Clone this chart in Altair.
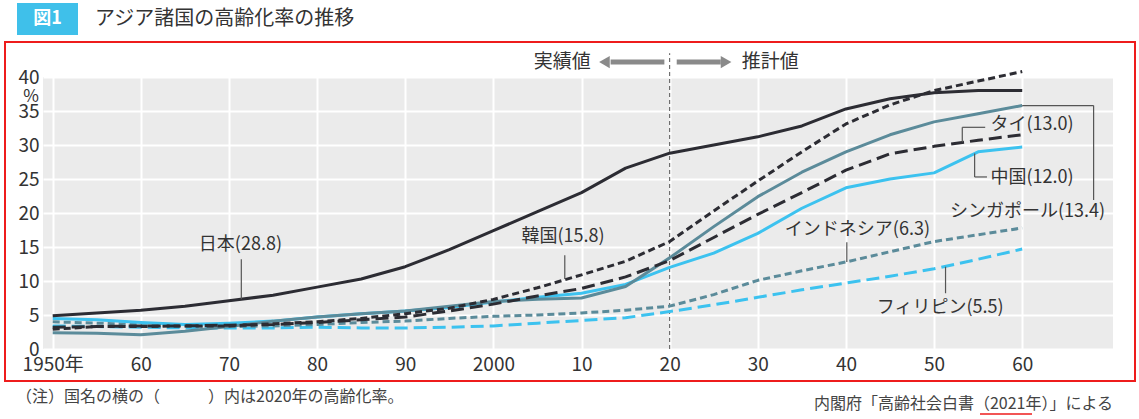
import altair as alt
import pandas as pd

FONT = "Noto Sans CJK JP"

# Share of population aged 65+ (%), every 5 years
years = list(range(1950, 2065, 5))

japan = [4.9, 5.3, 5.7, 6.3, 7.1, 7.9, 9.1, 10.3, 12.1, 14.6, 17.4, 20.2, 23.0, 26.6,
         28.8, 30.0, 31.2, 32.8, 35.3, 36.8, 37.7, 38.0, 38.0]
korea = [2.9, 3.3, 3.3, 3.4, 3.4, 3.7, 4.0, 4.5, 5.2, 6.0, 7.3, 9.0, 10.9, 12.9,
         15.8, 20.3, 24.7, 29.0, 33.1, 35.9, 38.0, 39.4, 40.8]
thailand = [3.2, 3.3, 3.4, 3.4, 3.5, 3.6, 3.9, 4.3, 4.7, 5.6, 6.6, 7.8, 8.9, 10.6,
            13.0, 16.4, 19.8, 23.0, 26.3, 28.7, 29.8, 30.7, 31.5]
singapore = [2.4, 2.3, 2.1, 2.6, 3.3, 4.1, 4.7, 5.2, 5.6, 6.3, 7.0, 7.3, 7.5, 9.2,
             13.4, 18.0, 22.4, 26.0, 29.0, 31.5, 33.4, 34.6, 35.8]
china = [4.5, 4.3, 3.9, 3.6, 3.8, 4.1, 4.7, 5.2, 5.6, 6.1, 6.9, 7.6, 8.2, 9.5,
         12.0, 14.1, 17.0, 20.7, 23.7, 25.0, 25.9, 29.0, 29.7]
indonesia = [4.0, 3.8, 3.6, 3.4, 3.3, 3.4, 3.6, 3.9, 4.1, 4.5, 4.8, 5.0, 5.3, 5.7,
             6.3, 8.0, 10.1, 11.5, 12.8, 14.3, 15.8, 16.8, 17.8]
philippines = [3.4, 3.3, 3.2, 3.1, 3.1, 3.1, 3.2, 3.1, 3.1, 3.2, 3.4, 3.8, 4.2, 4.6,
               5.5, 6.5, 7.6, 8.7, 9.7, 10.7, 11.8, 13.2, 14.7]

BLACK = "#2c2c33"
STEEL = "#5b8b9a"
CYAN = "#3cc2ef"

# name, values, colour, dash pattern (drawn back to front)
series = [
    ("フィリピン", philippines, CYAN, [13, 6]),
    ("インドネシア", indonesia, STEEL, [7, 4]),
    ("中国", china, CYAN, []),
    ("シンガポール", singapore, STEEL, []),
    ("タイ", thailand, BLACK, [13, 6]),
    ("韓国", korea, BLACK, [7, 4]),
    ("日本", japan, BLACK, []),
]

# Labels: text, anchor year, anchor value, alignment
label_text = ["日本(28.8)", "韓国(15.8)", "タイ(13.0)", "中国(12.0)",
              "シンガポール(13.4)", "インドネシア(6.3)", "フィリピン(5.5)"]
label_year = [1971.3, 2007.9, 2056.4, 2056.4, 2069.4, 2041.3, 2050.7]
label_value = [15.3, 16.5, 32.9, 25.1, 20.1, 17.5, 6.0]
label_align = ["center", "center", "left", "left", "right", "center", "center"]

# Leader lines (year, value) -> (year2, value2)
lead_year = [1971.4, 2008.1, 2055.8, 2053.2, 2054.6, 2054.6, 2060.0, 2068.1, 2040.1, 2051.3]
lead_value = [7.3, 10.3, 32.6, 32.6, 28.75, 25.3, 35.8, 35.8, 12.8, 12.1]
lead_year2 = [1971.4, 2008.1, 2053.2, 2053.2, 2054.6, 2056.0, 2068.1, 2068.1, 2040.1, 2051.3]
lead_value2 = [13.2, 13.8, 32.6, 30.4, 25.3, 25.3, 35.8, 21.9, 15.7, 8.2]

x_ticks = list(range(1950, 2070, 10))
y_ticks = list(range(0, 45, 5))

xscale = alt.Scale(domain=[1948.9, 2070.3], nice=False, zero=False)
yscale = alt.Scale(domain=[0, 40], nice=False)
xaxis = alt.Axis(
    values=x_ticks, title=None, domain=False, ticks=False, labelPadding=6,
    labelFontSize=19, labelColor="#333333", labelFont=FONT, labelBaseline="top",
    labelExpr="datum.value == 1950 ? '1950年' : datum.value == 2000 ? '2000' : substring(toString(datum.value), 2, 4)",
    gridColor="white", gridWidth=2,
)
yaxis = alt.Axis(
    values=y_ticks, title=None, domain=False, ticks=False, labelPadding=4,
    labelFontSize=19, labelColor="#333333", labelFont=FONT,
    gridColor="white", gridWidth=2,
)
X = alt.X("year:Q", scale=xscale, axis=xaxis)
Y = alt.Y("value:Q", scale=yscale, axis=yaxis)

layers = []

# Divider between observed and projected values
divider = alt.Chart(pd.DataFrame({"year": [2020], "value": [0], "value2": [43.5]})).mark_rule(
    color="#555555", strokeWidth=1, strokeDash=[4, 3]
).encode(x=X, y=Y, y2="value2:Q")
layers.append(divider)

for name, vals, col, dash in series:
    df = pd.DataFrame({"year": years, "value": vals})
    mk = dict(color=col, strokeWidth=3, strokeCap="butt", strokeJoin="round")
    if dash:
        mk["strokeDash"] = dash
    layers.append(alt.Chart(df).mark_line(**mk).encode(x=X, y=Y))

leaders = pd.DataFrame({"year": lead_year, "value": lead_value,
                        "year2": lead_year2, "value2": lead_value2})
layers.append(
    alt.Chart(leaders).mark_rule(color="#555555", strokeWidth=1.2).encode(
        x=X, y=Y, x2="year2:Q", y2="value2:Q")
)

labels = pd.DataFrame({"year": label_year, "value": label_value,
                       "text": label_text, "align": label_align})
for al in ["left", "center", "right"]:
    layers.append(
        alt.Chart(labels).transform_filter(alt.datum.align == al).mark_text(
            align=al, baseline="middle", font=FONT, fontSize=18, color="#333333"
        ).encode(x=X, y=Y, text="text:N")
    )

# Observed / projected header with arrows
header = pd.DataFrame({"year": [2007.8, 2031.4], "value": [42.2, 42.2],
                       "text": ["実績値", "推計値"]})
layers.append(
    alt.Chart(header).mark_text(font=FONT, fontSize=19, color="#333333",
                                baseline="middle").encode(x=X, y=Y, text="text:N")
)
shafts = pd.DataFrame({"year": [2013.3, 2020.8], "year2": [2019.4, 2025.8],
                       "value": [42.2, 42.2]})
layers.append(
    alt.Chart(shafts).mark_rule(color="#8a8a8a", strokeWidth=5).encode(
        x=X, x2="year2:Q", y=Y)
)
heads = pd.DataFrame({"year": [2012.6, 2026.4], "value": [42.2, 42.2],
                      "shape": ["triangle-left", "triangle-right"]})
layers.append(
    alt.Chart(heads).mark_point(filled=True, color="#8a8a8a", size=150, opacity=1).encode(
        x=X, y=Y, shape=alt.Shape("shape:N", scale=None))
)

one = pd.DataFrame({"t": [""]})

# Unit mark
layers.append(
    alt.Chart(pd.DataFrame({"t": ["%"]})).mark_text(
        font=FONT, fontSize=17, color="#333333", align="center", baseline="middle"
    ).encode(x=alt.value(-12), y=alt.value(20), text="t:N")
)

# Figure heading
layers.append(
    alt.Chart(one).mark_rect(color="#3fc0ea").encode(
        x=alt.value(-26), x2=alt.value(35), y=alt.value(-74), y2=alt.value(-42))
)
layers.append(
    alt.Chart(pd.DataFrame({"t": ["図1"]})).mark_text(
        font=FONT, fontSize=18, fontWeight="bold", color="white", align="center", baseline="middle"
    ).encode(x=alt.value(4.5), y=alt.value(-58), text="t:N")
)
layers.append(
    alt.Chart(pd.DataFrame({"t": ["アジア諸国の高齢化率の推移"]})).mark_text(
        font=FONT, fontSize=20, color="#333333", align="left", baseline="middle"
    ).encode(x=alt.value(52), y=alt.value(-58), text="t:N")
)

# Frame around the plot
layers.append(
    alt.Chart(one).mark_rect(fillOpacity=0, stroke="#ee1c1c", strokeWidth=2).encode(
        x=alt.value(-38), x2=alt.value(1092), y=alt.value(-35), y2=alt.value(304))
)

# Notes below the chart
layers.append(
    alt.Chart(pd.DataFrame({"t": ["（注）国名の横の（　　　）内は2020年の高齢化率。"]})).mark_text(
        font=FONT, fontSize=16, color="#444444", align="left", baseline="middle"
    ).encode(x=alt.value(-27), y=alt.value(320), text="t:N")
)
layers.append(
    alt.Chart(pd.DataFrame({"t": ["内閣府「高齢社会白書（2021年）」による"]})).mark_text(
        font=FONT, fontSize=16, color="#444444", align="right", baseline="middle"
    ).encode(x=alt.value(1070), y=alt.value(327), text="t:N")
)
layers.append(
    alt.Chart(one).mark_rule(color="#ee1c1c", strokeWidth=1.5).encode(
        x=alt.value(937), x2=alt.value(989), y=alt.value(337))
)

chart = alt.layer(*layers).properties(
    width=1070,
    height=272,
    autosize=alt.AutoSizeParams(type="none"),
    padding={"left": 43, "top": 77, "right": 26, "bottom": 70},
    background="white",
).configure_view(fill="#ebebeb", strokeWidth=0)

chart.save("out.html", embed_options={"renderer": "svg", "actions": False})
